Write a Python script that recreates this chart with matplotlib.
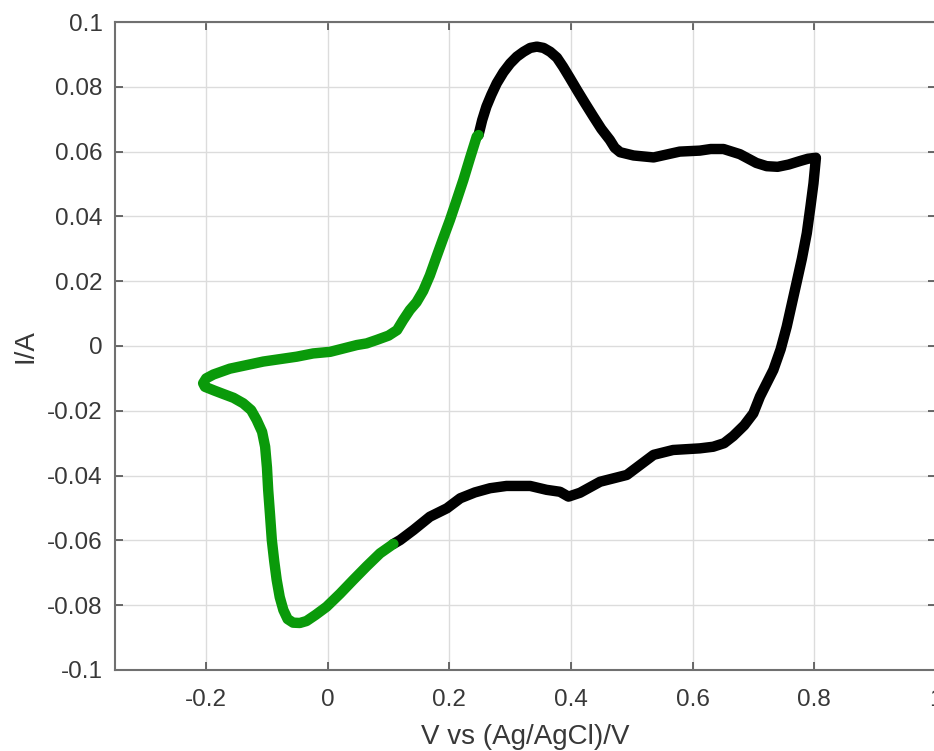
import matplotlib.pyplot as plt

# Dados (voltametria ciclica)
# trecho verde
v_verde = [0.248, 0.245, 0.234, 0.223, 0.212, 0.201, 0.190, 0.179, 0.168, 0.157, 0.146,
           0.135, 0.124, 0.114, 0.100, 0.081, 0.064,
           0.048, 0.004, -0.024, -0.051, -0.106, -0.161, -0.188, -0.200, -0.205, -0.202,
           -0.186, -0.172, -0.155, -0.139, -0.126, -0.117, -0.108, -0.103, -0.100, -0.098,
           -0.095, -0.092, -0.088, -0.084, -0.079, -0.073, -0.066, -0.057,
           -0.046, -0.035, -0.020, -0.002, 0.020, 0.042, 0.064, 0.086, 0.108]
i_verde = [0.0651, 0.0646, 0.0580, 0.0512, 0.0450, 0.0389, 0.0333, 0.0276, 0.0218, 0.0170, 0.0135,
           0.0111, 0.0080, 0.0049, 0.0032, 0.0019, 0.0008,
           0.0003, -0.0018, -0.0023, -0.0033, -0.0048, -0.0070, -0.0088, -0.0100, -0.0115, -0.0126,
           -0.0138, -0.0148, -0.0160, -0.0177, -0.0198, -0.0228, -0.0265, -0.0311, -0.0375, -0.0444,
           -0.0520, -0.0599, -0.0665, -0.0722, -0.0775, -0.0815, -0.0843, -0.0854,
           -0.0855, -0.0849, -0.0830, -0.0805, -0.0765, -0.0722, -0.0680, -0.0640, -0.0611]

# trecho preto
v_preto = [0.108, 0.119, 0.141, 0.168, 0.196, 0.218, 0.242, 0.267, 0.294, 0.333, 0.360,
           0.382, 0.396, 0.415, 0.448, 0.492, 0.536, 0.568, 0.612, 0.634, 0.652, 0.667,
           0.685, 0.700, 0.711, 0.722, 0.733, 0.745, 0.755, 0.771, 0.780, 0.788, 0.794, 0.799,
           0.803, 0.790, 0.777, 0.758, 0.740,
           0.722, 0.705, 0.690, 0.678, 0.651, 0.630, 0.612, 0.579, 0.536, 0.503, 0.481,
           0.472, 0.464, 0.450, 0.437, 0.423, 0.410, 0.398, 0.387, 0.377, 0.366, 0.355,
           0.344, 0.333, 0.322, 0.311, 0.300, 0.289, 0.278, 0.269, 0.261, 0.254, 0.248]
i_preto = [-0.0611, -0.0599, -0.0568, -0.0527, -0.0501, -0.0470, -0.0452, -0.0439, -0.0432, -0.0432, -0.0444,
           -0.0450, -0.0465, -0.0453, -0.0419, -0.0398, -0.0336, -0.0321, -0.0316, -0.0311, -0.0300, -0.0278,
           -0.0245, -0.0208, -0.0156, -0.0115, -0.0074, -0.0010, 0.0060, 0.0194, 0.0270, 0.0348, 0.0430, 0.0502,
           0.0581, 0.0578, 0.0571, 0.0560, 0.0553,
           0.0555, 0.0565, 0.0580, 0.0592, 0.0608, 0.0608, 0.0603, 0.0600, 0.0582, 0.0588, 0.0598,
           0.0612, 0.0636, 0.0670, 0.0708, 0.0750, 0.0790, 0.0828, 0.0862, 0.0890, 0.0908, 0.0920,
           0.0924, 0.0920, 0.0908, 0.0893, 0.0872, 0.0845, 0.0811, 0.0775, 0.0739, 0.0697, 0.0651]

xticks = [-0.2, 0, 0.2, 0.4, 0.6, 0.8, 1]
xtick_labels = ['-0.2', '0', '0.2', '0.4', '0.6', '0.8', '1']
yticks = [-0.1, -0.08, -0.06, -0.04, -0.02, 0, 0.02, 0.04, 0.06, 0.08, 0.1]
ytick_labels = ['-0.1', '-0.08', '-0.06', '-0.04', '-0.02', '0', '0.02', '0.04', '0.06', '0.08', '0.1']

plt.rcParams['font.family'] = ['Liberation Sans', 'DejaVu Sans']

fig = plt.figure(figsize=(9.34, 7.51), dpi=100)
ax = fig.add_axes([0.1231, 0.1079, 0.8787, 0.8628])

ax.plot(v_preto, i_preto, color='black', linewidth=7.5, solid_capstyle='round', solid_joinstyle='round')
ax.plot(v_verde, i_verde, color='#0a9a0a', linewidth=7.5, solid_capstyle='round', solid_joinstyle='round')

ax.set_xlim(-0.35, 1.0)
ax.set_ylim(-0.1, 0.1)
ax.set_xticks(xticks)
ax.set_xticklabels(xtick_labels)
ax.set_yticks(yticks)
ax.set_yticklabels(ytick_labels)

ax.grid(True, color='#dcdcdc', linewidth=1)
ax.set_axisbelow(True)
for s in ax.spines.values():
    s.set_color('#707070')
    s.set_linewidth(1.5)
ax.tick_params(direction='in', length=5.5, width=1.2, color='#505050',
               labelsize=17.5, labelcolor='#383838', top=True, right=True)
ax.tick_params(axis='x', pad=14)
ax.tick_params(axis='y', pad=9)

ax.set_xlabel('V vs (Ag/AgCl)/V', fontsize=20, color='#383838', labelpad=9)
ax.set_ylabel('I/A', fontsize=20, color='#383838', labelpad=6)

plt.savefig('out.png', dpi=100)
